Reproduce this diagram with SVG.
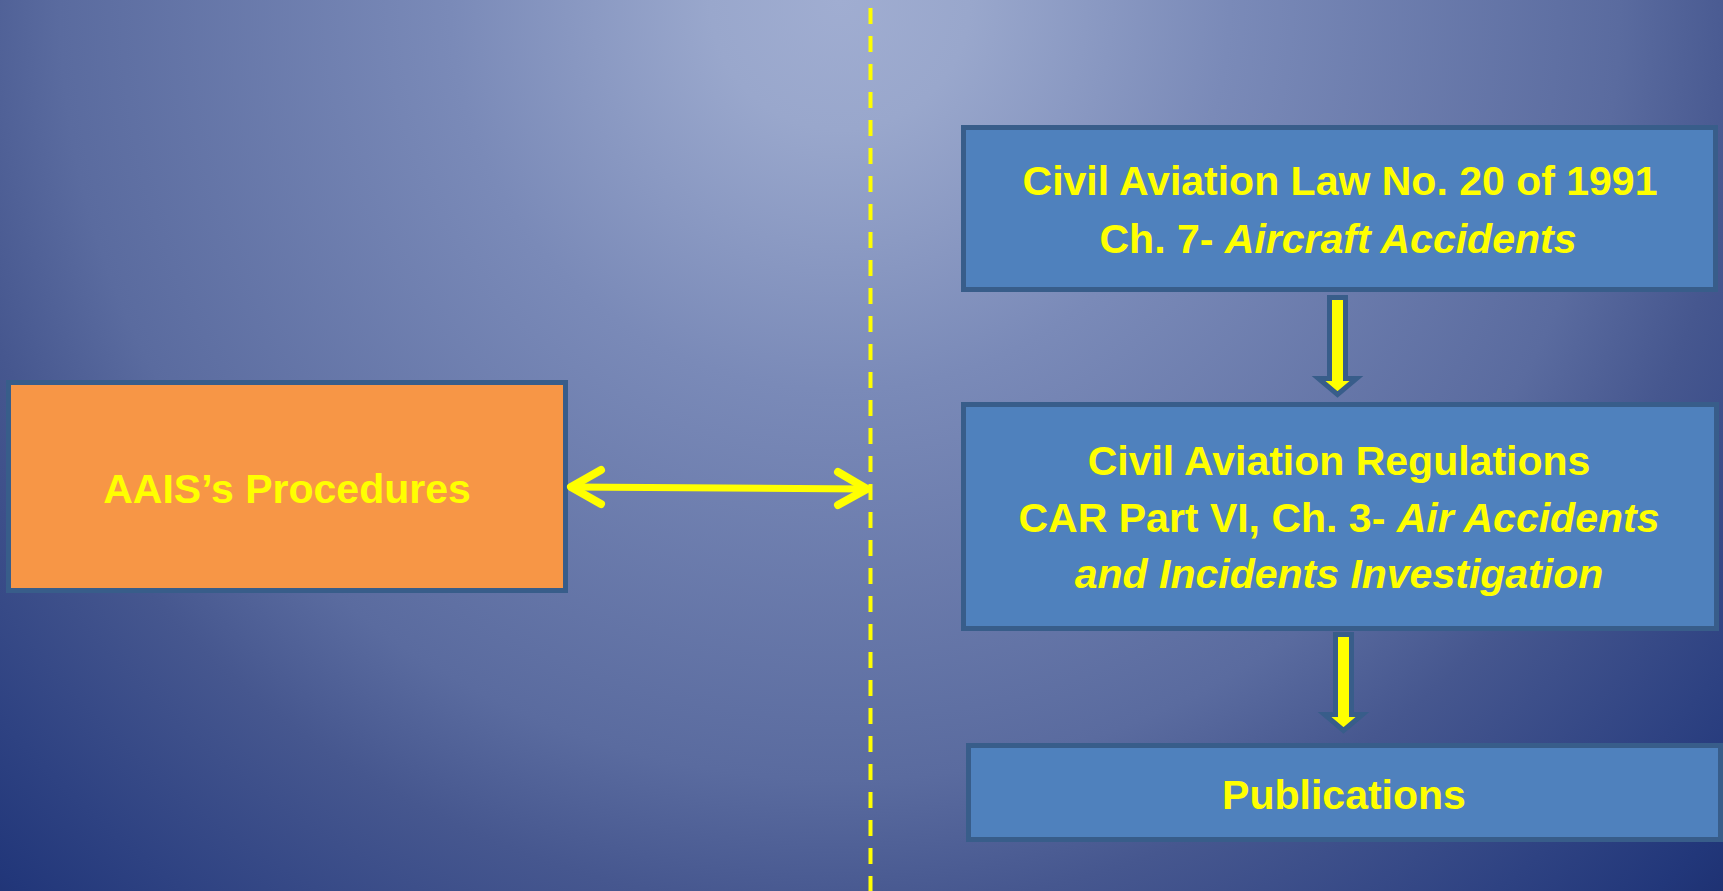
<svg xmlns="http://www.w3.org/2000/svg" width="1723" height="891" viewBox="0 0 1723 891">
  <defs>
    <!-- slide backdrop: light glow at the top centre fading to navy at the corners -->
    <radialGradient id="bg" gradientUnits="userSpaceOnUse" cx="840" cy="0" r="1300">
      <stop offset="0" stop-color="#A0ADD1"/>
      <stop offset="0.1" stop-color="#99A7CC"/>
      <stop offset="0.3" stop-color="#7A8AB8"/>
      <stop offset="0.6" stop-color="#5A6B9F"/>
      <stop offset="0.7" stop-color="#46578F"/>
      <stop offset="0.85" stop-color="#2E4282"/>
      <stop offset="0.93" stop-color="#22377A"/>
      <stop offset="1" stop-color="#1B2D6C"/>
    </radialGradient>
    <style>
      .box { fill: #4F81BD; stroke: #385D8A; stroke-width: 5; }
      .box-orange { fill: #F79646; stroke: #385D8A; stroke-width: 5; }
      .label { font-family: "Liberation Sans", Arial, sans-serif; font-weight: bold; font-size: 41px; fill: #FFFF00; text-anchor: middle; }
      .em { font-style: italic; }
      .divider { stroke: #FFFF00; stroke-width: 4; stroke-dasharray: 16 12; fill: none; }
      .link { stroke: #FFFF00; stroke-width: 7; fill: none; stroke-linecap: round; stroke-linejoin: round; }
      .head { stroke-width: 8; }
      .block-arrow { fill: #FFFF00; stroke: #385D8A; stroke-width: 5; stroke-linejoin: miter; }
    </style>
  </defs>

  <rect x="0" y="0" width="1723" height="891" fill="url(#bg)"/>

  <!-- vertical dashed separator -->
  <g id="divider">
    <line class="divider" x1="870.5" y1="8" x2="870.5" y2="891"/>
  </g>

  <g id="node-aais">
    <rect class="box-orange" x="8.5" y="382.5" width="557" height="208"/>
    <text class="label" x="287" y="503">AAIS’s Procedures</text>
  </g>

  <g id="node-law">
    <rect class="box" x="963.5" y="127.5" width="752" height="162"/>
    <text class="label" x="1340" y="195">Civil Aviation Law No. 20 of 1991</text>
    <text class="label" x="1338" y="253">Ch. 7- <tspan class="em">Aircraft Accidents</tspan></text>
  </g>

  <g id="node-car">
    <rect class="box" x="963.5" y="404.5" width="753" height="224"/>
    <text class="label" x="1339" y="475">Civil Aviation Regulations</text>
    <text class="label" x="1339" y="532">CAR Part VI, Ch. 3- <tspan class="em">Air Accidents</tspan></text>
    <text class="label em" x="1339" y="588">and Incidents Investigation</text>
  </g>

  <g id="node-publications">
    <rect class="box" x="968.5" y="745.5" width="752" height="94"/>
    <text class="label" x="1344" y="809">Publications</text>
  </g>

  <g id="connectors">
    <!-- two-way link between the procedures box and the separator -->
    <path class="link" d="M571 487 L867 489"/>
    <path class="link head" d="M601 470 L571 487 L601 504"/>
    <path class="link head" d="M838 472 L867 489 L838 505"/>
    <!-- law -> regulations -->
    <path class="block-arrow" d="M1329.5 297.5 H1345.5 V378.5 H1356.5 L1337.5 394.5 L1318.5 378.5 H1329.5 Z"/>
    <!-- regulations -> publications -->
    <path class="block-arrow" d="M1335.5 634.5 H1351.5 V714.5 H1362.5 L1343.5 730.5 L1324.5 714.5 H1335.5 Z"/>
  </g>
</svg>
